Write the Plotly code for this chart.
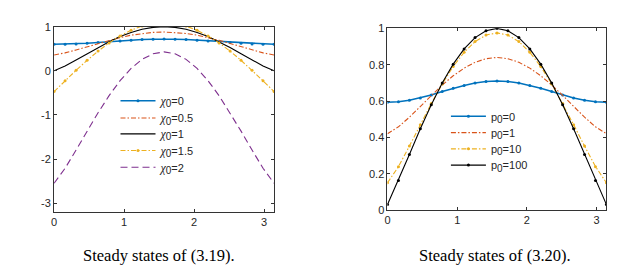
import numpy as np
import plotly.graph_objects as go

# sampling grid on [0, pi]
x = np.linspace(0, np.pi, 21)

# ---- left panel: steady states of (3.19) ----
chi_labels = ["0", "0.5", "1", "1.5", "2"]
chi0_0 = [0.600, 0.603, 0.611, 0.625, 0.641, 0.660, 0.679, 0.695, 0.709, 0.717, 0.720,
          0.717, 0.709, 0.695, 0.679, 0.660, 0.641, 0.625, 0.611, 0.603, 0.600]
chi0_05 = [0.360, 0.407, 0.473, 0.546, 0.621, 0.691, 0.755, 0.808, 0.847, 0.872, 0.880,
           0.872, 0.847, 0.808, 0.755, 0.691, 0.621, 0.546, 0.473, 0.407, 0.360]
chi0_1 = [0.000, 0.108, 0.244, 0.388, 0.529, 0.660, 0.776, 0.871, 0.942, 0.985, 1.000,
          0.985, 0.942, 0.871, 0.776, 0.660, 0.529, 0.388, 0.244, 0.108, 0.000]
chi0_15 = [-0.470, -0.226, 0.012, 0.238, 0.447, 0.633, 0.792, 0.920, 1.014, 1.071, 1.090,
           1.071, 1.014, 0.920, 0.792, 0.633, 0.447, 0.238, 0.012, -0.226, -0.470]
chi0_2 = [-2.550, -2.210, -1.796, -1.367, -0.950, -0.563, -0.224, 0.054, 0.260, 0.387, 0.430,
          0.387, 0.260, 0.054, -0.224, -0.563, -0.950, -1.367, -1.796, -2.210, -2.550]
left_yticks = [-3, -2, -1, 0, 1]
left_yticktext = ["-3", "-2", "-1", "0", "1"]

# ---- right panel: steady states of (3.20) ----
p_labels = ["0", "1", "10", "100"]
p0_0 = [0.593, 0.596, 0.604, 0.617, 0.633, 0.652, 0.670, 0.686, 0.699, 0.707, 0.710,
        0.707, 0.699, 0.686, 0.670, 0.652, 0.633, 0.617, 0.604, 0.596, 0.593]
p0_1 = [0.420, 0.458, 0.511, 0.570, 0.631, 0.688, 0.739, 0.781, 0.813, 0.833, 0.840,
        0.833, 0.813, 0.781, 0.739, 0.688, 0.631, 0.570, 0.511, 0.458, 0.420]
p0_10 = [0.150, 0.239, 0.352, 0.470, 0.586, 0.694, 0.790, 0.868, 0.927, 0.963, 0.975,
         0.963, 0.927, 0.868, 0.790, 0.694, 0.586, 0.470, 0.352, 0.239, 0.150]
p0_100 = [0.030, 0.163, 0.306, 0.447, 0.579, 0.699, 0.803, 0.887, 0.949, 0.987, 1.000,
          0.987, 0.949, 0.887, 0.803, 0.699, 0.579, 0.447, 0.306, 0.163, 0.030]
right_yticks = [0, 0.2, 0.4, 0.6, 0.8, 1]
xticks = [0, 1, 2, 3]

captions = ["Steady states of (3.19).", "Steady states of (3.20)."]

BLUE, ORANGE, YELLOW, PURPLE, BLACK = "#0072BD", "#D95319", "#EDB120", "#7E2F8E", "#000000"
DASHDOT = "5px,2px,1.5px,2px"
DASH = "7px,4px"

CHI = "<span style='font-family:Liberation Serif;font-size:12px'><i>χ</i></span>"
SUB = "<sub><span style='font-size:10px'>0</span></sub>"

W, H = 630, 275
fig = go.Figure()
layout_legends = {}

left_series = [
    (chi0_0, BLUE, "solid", True, 1.5),
    (chi0_05, ORANGE, DASHDOT, False, 1.1),
    (chi0_1, BLACK, "solid", False, 1.1),
    (chi0_15, YELLOW, DASHDOT, True, 1.1),
    (chi0_2, PURPLE, DASH, False, 1.1),
]
left_rows = [90.7, 108.7, 125.3, 142.7, 160.3]
right_rows = [107, 124, 141, 158]

leg_i = 0
def legend_name(i):
    return "legend" if i == 0 else f"legend{i + 1}"

for (ys, col, dash, mk, lw), lab, ry in zip(left_series, chi_labels, left_rows):
    ln = legend_name(leg_i)
    fig.add_trace(go.Scatter(
        x=x, y=ys, xaxis="x", yaxis="y", legend=ln,
        mode="lines+markers" if mk else "lines",
        line=dict(color=col, dash=dash, width=lw),
        marker=dict(size=3, color=col),
        name=f"{CHI}{SUB}={lab}",
    ))
    layout_legends[ln] = dict(x=105 / W, y=1 - ry / H, xanchor="left", yanchor="middle",
                              bgcolor="rgba(0,0,0,0)", borderwidth=0, itemwidth=35,
                              font=dict(size=11, color="#262626"))
    leg_i += 1

right_series = [
    (p0_0, BLUE, "solid", True, 1.5),
    (p0_1, ORANGE, DASHDOT, False, 1.1),
    (p0_10, YELLOW, DASHDOT, True, 1.1),
    (p0_100, BLACK, "solid", True, 1.1),
]
for (ys, col, dash, mk, lw), lab, ry in zip(right_series, p_labels, right_rows):
    ln = legend_name(leg_i)
    fig.add_trace(go.Scatter(
        x=x, y=ys, xaxis="x2", yaxis="y2", legend=ln,
        mode="lines+markers" if mk else "lines",
        line=dict(color=col, dash=dash, width=lw),
        marker=dict(size=3, color=col),
        name=f"p{SUB}={lab}",
    ))
    layout_legends[ln] = dict(x=437 / W, y=1 - ry / H, xanchor="left", yanchor="middle",
                              bgcolor="rgba(0,0,0,0)", borderwidth=0, itemwidth=35,
                              font=dict(size=11, color="#262626"))
    leg_i += 1

axcol = "#333333"
common = dict(showline=True, linecolor=axcol, linewidth=1, mirror="ticks",
              ticks="inside", ticklen=3, tickcolor=axcol, tickwidth=1,
              showgrid=False, zeroline=False, tickfont=dict(size=11, color="#262626"))

fig.update_layout(
    width=W, height=H,
    margin=dict(l=0, r=0, t=0, b=0),
    paper_bgcolor="white", plot_bgcolor="white",
    font=dict(family="Liberation Sans, Arial", size=11, color="#262626"),
    xaxis=dict(domain=[43.3 / W, 264.3 / W], range=[0, np.pi], tickvals=xticks,
               anchor="y", **common),
    yaxis=dict(domain=[1 - 207 / H, 1 - 13.3 / H], range=[-3.2, 1], tickvals=left_yticks,
               ticktext=left_yticktext, anchor="x", **common),
    xaxis2=dict(domain=[378.3 / W, 598.3 / W], range=[0, np.pi], tickvals=xticks,
                anchor="y2", **common),
    yaxis2=dict(domain=[1 - 205 / H, 1 - 15 / H], range=[0, 1],
                tickvals=right_yticks, anchor="x2", **common),
    showlegend=True,
    **layout_legends,
)

for cx, txt in zip([149 / W, 486 / W], captions):
    fig.add_annotation(x=cx, y=1 - 252 / H, xref="paper", yref="paper",
                       text=txt, showarrow=False, xanchor="center", yanchor="middle",
                       font=dict(family="Liberation Serif, Times New Roman", size=16.5,
                                 color="black"))

fig.write_html("out.html")
